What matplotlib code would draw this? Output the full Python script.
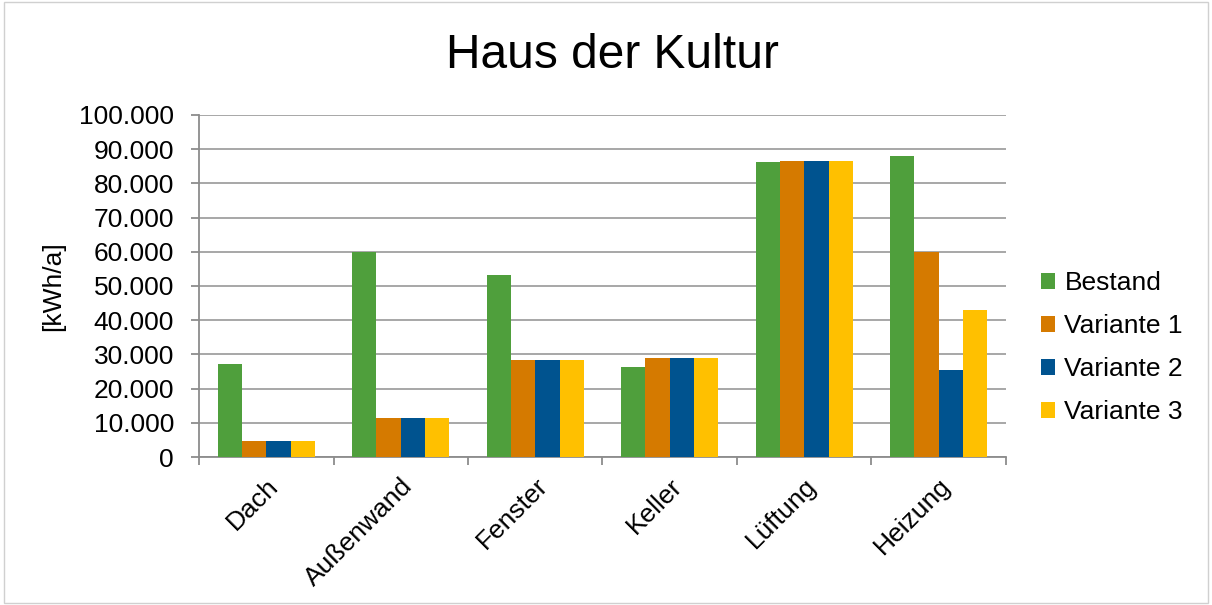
import numpy as np
import matplotlib
matplotlib.use("Agg")
import matplotlib.pyplot as plt
from matplotlib.ticker import FuncFormatter, FixedLocator

plt.rcParams['font.family'] = ['Liberation Sans', 'DejaVu Sans']

kategorien = ["Dach", "Außenwand", "Fenster", "Keller", "Lüftung", "Heizung"]
bestand = [27100, 60000, 53300, 26400, 86200, 87900]
variante1 = [4700, 11500, 28400, 29000, 86500, 59900]
variante2 = [4700, 11500, 28400, 29000, 86500, 25300]
variante3 = [4700, 11500, 28400, 29000, 86500, 43000]

serien = ["Bestand", "Variante 1", "Variante 2", "Variante 3"]
farben = ["#4f9f3c", "#d57a00", "#00538f", "#ffc000"]

fig = plt.figure(figsize=(12.12, 6.05), dpi=100)
ax = fig.add_axes([0.1642, 0.2446, 0.6658, 0.5654])

x = np.arange(len(kategorien))
breite = 0.181
for i, (werte, name, farbe) in enumerate(zip([bestand, variante1, variante2, variante3], serien, farben)):
    ax.bar(x + (i - 1.5) * breite, werte, breite, color=farbe, label=name, zorder=3)

ax.set_xlim(-0.5, len(kategorien) - 0.5)
ax.set_ylim(0, 100000)
ax.set_yticks(np.arange(0, 100001, 10000))
ax.yaxis.set_major_formatter(FuncFormatter(lambda v, p: f"{int(v):,}".replace(",", ".")))
ax.grid(axis="y", color="#a0a0a0", linewidth=1.3, zorder=0)

ax.set_xticks(x)
ax.set_xticklabels(kategorien, rotation=45, ha="right", rotation_mode="anchor", fontsize=19)
ax.tick_params(axis="x", length=0, pad=12)
ax.xaxis.set_minor_locator(FixedLocator(np.arange(-0.5, len(kategorien), 1)))
ax.tick_params(axis="x", which="minor", length=6, color="#8c8c8c", width=1.3)
ax.tick_params(axis="y", labelsize=19, length=6, color="#8c8c8c", width=1.3, pad=12)

for s in ["top", "right"]:
    ax.spines[s].set_visible(False)
for s in ["left", "bottom"]:
    ax.spines[s].set_color("#8c8c8c")
    ax.spines[s].set_linewidth(1.3)

ax.set_ylabel("[kWh/a]", fontsize=19, labelpad=10)
fig.text(0.505, 0.908, "Haus der Kultur", ha="center", va="center", fontsize=34.5)

ax.legend(loc="center left", bbox_to_anchor=(1.03, 0.32), frameon=False, fontsize=19,
          handlelength=0.55, handleheight=0.55, handletextpad=0.35, labelspacing=0.72,
          borderaxespad=0)

rahmen = plt.Rectangle((0.003, 0.003), 0.994, 0.994, transform=fig.transFigure,
                       fill=False, edgecolor="#d0d0d0", linewidth=1)
fig.patches.append(rahmen)

fig.savefig("out.png", dpi=100)
